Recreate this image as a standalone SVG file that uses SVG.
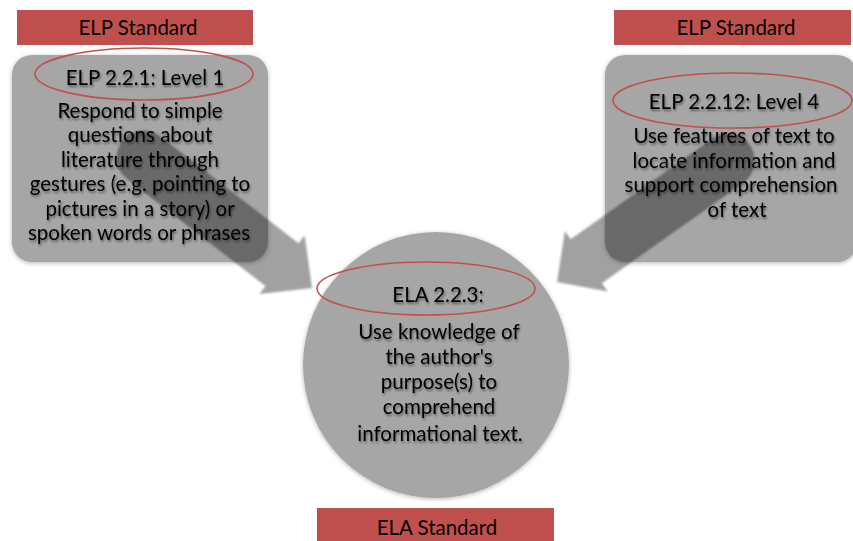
<svg xmlns="http://www.w3.org/2000/svg" width="853" height="541" viewBox="0 0 853 541">
  <defs>
    <filter id="soft" x="-10%" y="-10%" width="120%" height="120%">
      <feDropShadow dx="0" dy="1" stdDeviation="2" flood-color="#000" flood-opacity="0.3"/>
    </filter>
    <filter id="tshadow" x="-5%" y="-30%" width="110%" height="160%">
      <feGaussianBlur in="SourceAlpha" stdDeviation="1.3" result="b"/>
      <feOffset in="b" dx="1" dy="2" result="o"/>
      <feComponentTransfer in="o" result="s"><feFuncA type="linear" slope="0.45"/></feComponentTransfer>
      <feMerge><feMergeNode in="s"/><feMergeNode in="SourceGraphic"/></feMerge>
    </filter>
    <filter id="ablur" x="-10%" y="-10%" width="120%" height="120%">
      <feGaussianBlur stdDeviation="1"/>
    </filter>
  </defs>
  <style>
    .banner { fill: #c0504d; }
    .shape { fill: #a6a6a6; filter: url(#soft); }
    .oval { fill: none; stroke: #c0504d; stroke-width: 1.6; }
    .arrow { fill: #111; fill-opacity: 0.37; filter: url(#ablur); }
    text { font-family: Lato, "Liberation Sans", sans-serif; font-size: 20.5px; fill: #000; text-anchor: middle; }
    .body text { filter: url(#tshadow); }
  </style>

  <rect width="853" height="541" fill="#fff"/>

  <g id="left-box">
    <rect class="shape" x="12" y="55" width="256" height="207" rx="20"/>
  </g>
  <g id="right-box">
    <rect class="shape" x="605" y="55" width="252" height="207" rx="20"/>
  </g>
  <g id="center-circle">
    <circle class="shape" cx="436" cy="365" r="133"/>
  </g>

  <g id="connectors">
    <path class="arrow" d="M160.1,136.2 L298.5,243.3 L304.6,235.4 L312,288 L259.4,294 L265.5,286.1 L127.1,179 A27,27 0 0 1 160.1,136.2 Z"/>
    <path class="arrow" d="M713.3,137.9 L570.7,239.2 L564.9,231 L557,282 L607.7,291.4 L601.9,283.2 L744.5,181.9 A27,27 0 0 0 713.3,137.9 Z"/>
  </g>

  <g id="left-node" class="body">
    <ellipse class="oval" cx="144" cy="74" rx="109" ry="26"/>
    <text x="145" y="85">ELP 2.2.1: Level 1</text>
    <text x="140" y="118">Respond to simple</text>
    <text x="140" y="142.4">questions about</text>
    <text x="140" y="166.8">literature through</text>
    <text x="140" y="191.2">gestures (e.g. pointing to</text>
    <text x="140" y="215.6">pictures in a story) or</text>
    <text x="139" y="240">spoken words or phrases</text>
  </g>

  <g id="right-node" class="body">
    <ellipse class="oval" cx="732.5" cy="100.5" rx="119.5" ry="27.5"/>
    <text x="734" y="109">ELP 2.2.12: Level 4</text>
    <text x="734" y="143">Use features of text to</text>
    <text x="734" y="168">locate information and</text>
    <text x="731" y="192">support comprehension</text>
    <text x="737" y="217">of text</text>
  </g>

  <g id="center-node" class="body">
    <ellipse class="oval" cx="426" cy="288.5" rx="109" ry="26.5"/>
    <text x="438" y="302">ELA 2.2.3:</text>
    <text x="439" y="339">Use knowledge of</text>
    <text x="439" y="364">the author's</text>
    <text x="439" y="389">purpose(s) to</text>
    <text x="439" y="414">comprehend</text>
    <text x="440" y="441">informational text.</text>
  </g>

  <g id="banner-left">
    <rect class="banner" x="17" y="10" width="236" height="35"/>
    <text x="138" y="35">ELP Standard</text>
  </g>
  <g id="banner-right">
    <rect class="banner" x="614" y="10" width="237" height="35"/>
    <text x="736" y="35">ELP Standard</text>
  </g>
  <g id="banner-bottom">
    <rect class="banner" x="317" y="508" width="237" height="40"/>
    <text x="437" y="535">ELA Standard</text>
  </g>
</svg>
